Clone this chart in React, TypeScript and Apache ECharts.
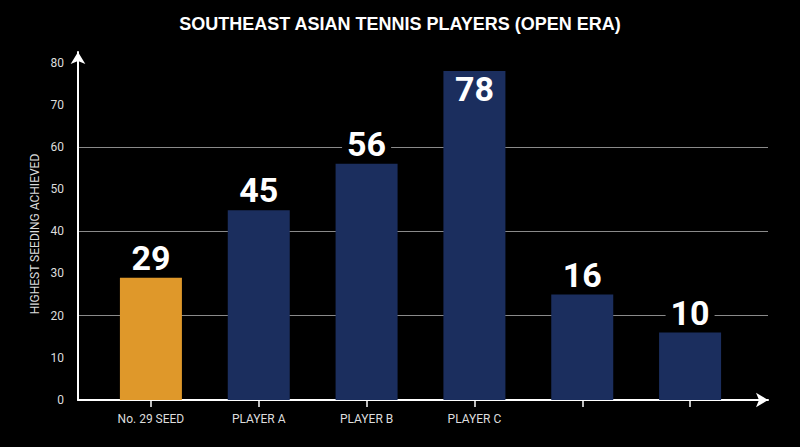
import React, { useEffect, useRef } from "react";
import * as echarts from "echarts";

const categories = ["No. 29 SEED", "PLAYER A", "PLAYER B", "PLAYER C", "", ""];
const barValues = [29, 45, 56, 78, 25, 16];
const barLabels = ["29", "45", "56", "78", "16", "10"];
const labelInside = [false, false, false, true, false, false];
const barColors = ["#DF982A", "#1B2E5E", "#1B2E5E", "#1B2E5E", "#1B2E5E", "#1B2E5E"];
const yMax = 82.5;
const gridlineValues = [20, 40, 60];

export default function App() {
  const ref = useRef<HTMLDivElement>(null);
  useEffect(() => {
    if (!ref.current) return;
    const chart = echarts.init(ref.current, null, { renderer: "svg" });
    const tickCount = Math.floor(yMax / 10) + 2;
    const splitColors = Array.from({ length: tickCount }, (_, i) =>
      gridlineValues.includes(i * 10) ? "#8a8a8a" : "rgba(0,0,0,0)"
    );
    const labelBase = {
      show: true,
      color: "#ffffff",
      fontSize: 34,
      fontWeight: "bold",
      fontFamily: "Roboto",
    };
    const option: any = {
      animation: false,
      backgroundColor: "#000000",
      title: {
        text: "SOUTHEAST ASIAN TENNIS PLAYERS (OPEN ERA)",
        left: "center",
        top: 10,
        textStyle: { color: "#ffffff", fontSize: 18, fontWeight: "bold", fontFamily: "Liberation Sans" },
      },
      graphic: [
        {
          type: "text",
          x: 35,
          y: 234,
          rotation: Math.PI / 2,
          style: {
            text: "HIGHEST SEEDING ACHIEVED",
            fill: "#dddddd",
            font: "12px Roboto",
            align: "center",
            verticalAlign: "middle",
          },
        },
      ],
      grid: [
        { left: 97, top: 52, width: 647, bottom: 47 },
        { left: 78, top: 52, right: 32, bottom: 47 },
      ],
      xAxis: [
        {
          type: "category",
          gridIndex: 0,
          position: "bottom",
          data: categories,
          axisLine: { show: false },
          axisTick: { show: true, alignWithLabel: true, length: 7, lineStyle: { color: "#ffffff", width: 1.5 } },
          axisLabel: { color: "#dddddd", fontSize: 12, fontFamily: "Roboto", margin: 13 },
        },
        {
          type: "category",
          gridIndex: 0,
          position: "bottom",
          data: categories,
          axisLine: { show: false },
          axisTick: { show: true, inside: true, alignWithLabel: true, length: 7, lineStyle: { color: "#ffffff", width: 1.5 } },
          axisLabel: { show: false },
        },
        {
          type: "value",
          gridIndex: 1,
          position: "bottom",
          min: 0,
          max: 1,
          axisLine: { show: true, symbol: ["none", "arrow"], symbolSize: [11, 12], lineStyle: { color: "#ffffff", width: 2 } },
          axisTick: { show: false },
          axisLabel: { show: false },
          splitLine: { show: false },
        },
      ],
      yAxis: [
        {
          type: "value",
          gridIndex: 0,
          min: 0,
          max: yMax,
          show: false,
          splitLine: { show: false },
        },
        {
          type: "value",
          gridIndex: 1,
          min: 0,
          max: yMax,
          interval: 10,
          axisLine: { show: true, symbol: ["none", "arrow"], symbolSize: [11, 12], lineStyle: { color: "#ffffff", width: 2 } },
          axisTick: { show: false },
          axisLabel: { color: "#dddddd", fontSize: 12, fontFamily: "Roboto", margin: 14, showMaxLabel: false },
          splitLine: { show: true, showMinLine: true, showMaxLine: true, lineStyle: { color: splitColors, width: 1 } },
        },
      ],
      series: [
        {
          type: "bar",
          xAxisIndex: 0,
          yAxisIndex: 0,
          barWidth: 62,
          z: 3,
          data: barValues.map((v, i) => ({
            value: v,
            itemStyle: { color: barColors[i] },
            label: labelInside[i]
              ? { ...labelBase, position: "insideTop", distance: 1, formatter: barLabels[i] }
              : {
                  ...labelBase,
                  position: "top",
                  distance: 3,
                  backgroundColor: "#000000",
                  padding: [0, 5],
                  formatter: barLabels[i],
                },
          })),
        },
      ],
    };
    chart.setOption(option);
    return () => chart.dispose();
  }, []);
  return (
    <div
      ref={ref}
      style={{ position: "fixed", left: 0, top: 0, width: 800, height: 447 }}
    />
  );
}
